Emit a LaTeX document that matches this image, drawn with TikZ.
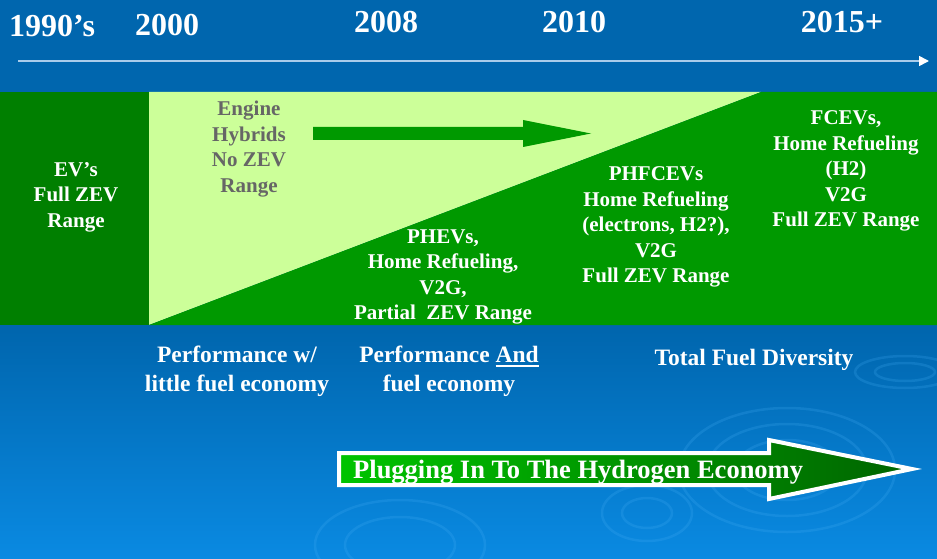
\documentclass[tikz,border=0pt]{standalone}
\usepackage{fontspec}
\setmainfont{Liberation Serif}
\usetikzlibrary{arrows.meta}

\definecolor{bgtop}{HTML}{0066AE}
\definecolor{bgbot}{HTML}{0A8AE2}
\definecolor{evgreen}{HTML}{007F00}
\definecolor{lightgreen}{HTML}{CCFF99}
\definecolor{midgreen}{HTML}{009900}
\definecolor{ripple}{HTML}{45AEF5}
\definecolor{timeline}{HTML}{A9CCEB}
\definecolor{greytext}{HTML}{666666}
\definecolor{plugleft}{HTML}{00C400}
\definecolor{plugright}{HTML}{006400}

\newcommand{\thickul}[1]{\setbox0\hbox{#1}\rlap{\rule[-4pt]{\wd0}{2.2pt}}\box0}

\begin{document}
\begin{tikzpicture}[x=1pt,y=-1pt,
    year/.style={text=white,inner sep=0pt,anchor=base,
      font=\fontsize{32}{36}\selectfont\bfseries},
    stage/.style={align=center,text=white,inner sep=0pt,
      font=\fontsize{21}{25.5}\selectfont\bfseries},
    note/.style={align=center,text=white,inner sep=0pt,
      font=\fontsize{23.5}{29}\selectfont\bfseries}]

    % background
    \useasboundingbox (0,0) rectangle (937,559);
    \fill[bgtop] (0,0) rectangle (937,331);
    \shade[top color=bgtop,bottom color=bgbot] (0,330) rectangle (937,559);

    \begin{scope}[ripple,opacity=.22,line width=2.5pt]
        \draw (787,470) ellipse [x radius=108,y radius=62];
        \draw (787,470) ellipse [x radius=80,y radius=46];
        \draw (787,470) ellipse [x radius=52,y radius=30];
        \draw (647,513) ellipse [x radius=45,y radius=28];
        \draw (647,513) ellipse [x radius=25,y radius=15];
        \draw (905,372) ellipse [x radius=50,y radius=16];
        \draw (905,372) ellipse [x radius=30,y radius=9];
        \draw (400,545) ellipse [x radius=85,y radius=45];
        \draw (400,545) ellipse [x radius=55,y radius=28];
    \end{scope}

    % green band
    \fill[evgreen]    (0,92) rectangle (149,325);
    \fill[lightgreen] (149,92) -- (761,92) -- (149,325) -- cycle;
    \fill[midgreen]   (149,325) -- (761,92) -- (937,92) -- (937,325) -- cycle;
    \fill[midgreen]   (313,127) -- (523,127) -- (523,120) -- (591,133.5)
                      -- (523,147) -- (523,140) -- (313,140) -- cycle;

    % timeline
    \node[year] (y1990) at (52,37)  {1990’s};
    \node[year] (y2000) at (167,36) {2000};
    \node[year] (y2008) at (386,33) {2008};
    \node[year] (y2010) at (574,33) {2010};
    \node[year] (y2015) at (842,33) {2015+};

    \coordinate (t0) at (18,61);
    \coordinate (t1) at (929,61);
    \draw[timeline,line width=1.6pt,-{Triangle[length=10pt,width=10pt,color=white]}] (t0) -- (t1);

    % stages
    \node[stage] (ev)     at (76,197)  {EV’s\\Full ZEV\\Range};
    \node[stage,text=greytext] (hybrid) at (249,149) {Engine\\Hybrids\\No ZEV\\Range};
    \node[stage] (phev)   at (443,277) {PHEVs,\\Home Refueling,\\V2G,\\Partial~ ZEV Range};
    \node[stage] (phfcev) at (656,227) {PHFCEVs\\Home Refueling\\(electrons, H2?),\\V2G\\Full ZEV Range};
    \node[stage] (fcev)   at (846,171) {FCEVs,\\Home Refueling\\(H2)\\V2G\\Full ZEV Range};

    \node[note] (perf)      at (237,371.5) {Performance w/\\little fuel economy};
    \node[note] (perfand)   at (449,371.5) {Performance \thickul{And}\\fuel economy};
    \node[note] (diversity) at (754,360)   {Total Fuel Diversity};

    % hydrogen arrow
    \draw[white,line width=4pt,line join=miter,left color=plugleft,right color=plugright]
        (339,453) -- (769,453) -- (769,440) -- (912,469) -- (769,499)
        -- (769,485) -- (339,485) -- cycle;
    \node[text=white,inner sep=0pt,anchor=base west,
      font=\fontsize{26.5}{30}\selectfont\bfseries] (plug) at (353,478)
        {Plugging In To The Hydrogen Economy};
\end{tikzpicture}
\end{document}
